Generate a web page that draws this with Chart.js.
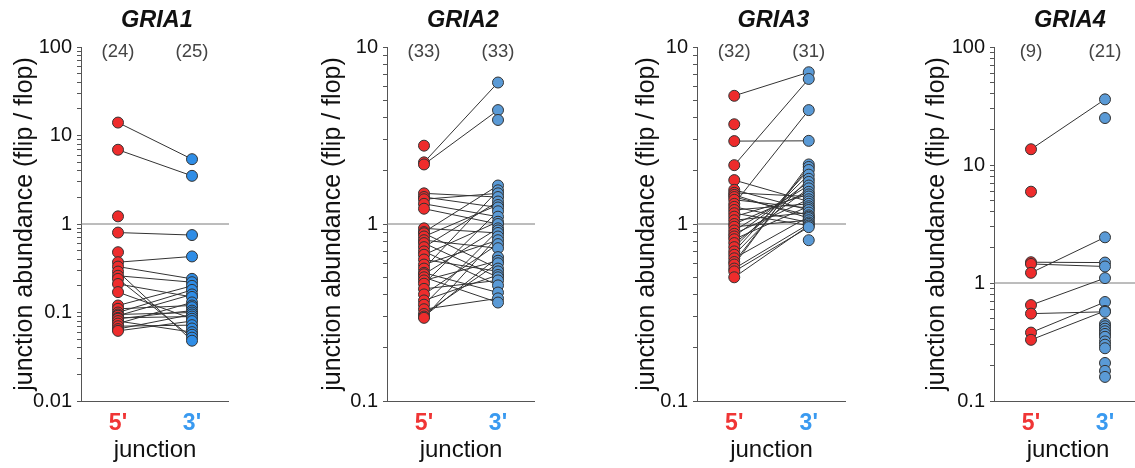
<!DOCTYPE html>
<html>
<head>
<meta charset="utf-8">
<script src="https://cdn.jsdelivr.net/npm/chart.js@4.4.1/dist/chart.umd.min.js"></script>
<style>
  html, body { margin: 0; padding: 0; background: #fff; overflow: hidden; width: 1135px; height: 468px; }
  canvas { position: absolute; top: 0; }
</style>
</head>
<body>
<canvas id="p0" width="229" height="468" style="left:0px"></canvas>
<canvas id="p1" width="227" height="468" style="left:308px"></canvas>
<canvas id="p2" width="224" height="468" style="left:622px"></canvas>
<canvas id="p3" width="230" height="468" style="left:912px"></canvas>
<script>
const genes = ['GRIA1', 'GRIA2', 'GRIA3', 'GRIA4'];
const n5 = [24, 33, 32, 9];
const n3 = [25, 33, 31, 21];
const categories = ["5'", "3'"];
const decades = [[0.01, 0.1, 1, 10, 100], [0.1, 1, 10], [0.1, 1, 10], [0.1, 1, 10, 100]];

// flip/flop ratios, 5' and 3' junction; pairs = [index in 5', index in 3']
const gria1_5 = [14, 6.9, 1.22, 0.80, 0.48, 0.37, 0.33, 0.29, 0.26, 0.24, 0.21, 0.17, 0.12, 0.11, 0.10, 0.095, 0.092, 0.087, 0.085, 0.08, 0.075, 0.07, 0.065, 0.062];
const gria1_3 = [5.4, 3.5, 0.75, 0.43, 0.24, 0.22, 0.20, 0.18, 0.16, 0.15, 0.13, 0.12, 0.115, 0.105, 0.1, 0.095, 0.09, 0.085, 0.08, 0.072, 0.066, 0.06, 0.056, 0.052, 0.048];
const gria1_pairs = [[0,0],[1,1],[3,2],[5,3],[6,4],[7,24],[8,5],[9,23],[10,9],[11,17],[12,6],[13,11],[14,7],[15,14],[16,8],[17,16],[18,13],[19,21],[20,10],[21,19],[22,15],[23,18]];

const gria2_5 = [2.77, 2.23, 2.17, 1.49, 1.42, 1.38, 1.3, 1.22, 0.945, 0.9, 0.886, 0.85, 0.81, 0.78, 0.74, 0.70, 0.67, 0.63, 0.59, 0.56, 0.53, 0.52, 0.50, 0.48, 0.46, 0.43, 0.40, 0.37, 0.35, 0.33, 0.31, 0.30, 0.295];
const gria2_3 = [6.3, 4.4, 3.87, 1.65, 1.55, 1.49, 1.42, 1.34, 1.28, 1.24, 1.18, 1.10, 1.03, 1.0, 0.945, 0.92, 0.89, 0.85, 0.81, 0.77, 0.73, 0.65, 0.62, 0.60, 0.56, 0.54, 0.515, 0.50, 0.48, 0.45, 0.41, 0.38, 0.36];
const gria2_pairs = [[1,0],[2,1],[3,6],[4,9],[5,5],[6,11],[7,13],[8,16],[9,3],[10,24],[11,8],[12,20],[13,27],[14,7],[15,29],[16,12],[17,25],[18,18],[19,4],[20,30],[21,14],[22,32],[23,22],[24,10],[25,28],[26,19],[27,26],[28,15],[29,31],[30,23],[31,21],[32,17]];

const gria3_5 = [5.3, 3.66, 2.94, 2.15, 1.77, 1.56, 1.5, 1.46, 1.42, 1.37, 1.3, 1.25, 1.2, 1.15, 1.1, 1.05, 1.0, 0.965, 0.92, 0.88, 0.85, 0.82, 0.78, 0.74, 0.70, 0.67, 0.64, 0.61, 0.59, 0.56, 0.54, 0.5];
const gria3_3 = [7.2, 6.6, 4.4, 2.95, 2.17, 2.1, 2.02, 1.9, 1.8, 1.73, 1.65, 1.59, 1.52, 1.47, 1.43, 1.38, 1.34, 1.30, 1.26, 1.23, 1.20, 1.16, 1.12, 1.10, 1.08, 1.05, 1.02, 1.0, 0.98, 0.96, 0.81];
const gria3_pairs = [[0,0],[2,3],[3,1],[10,2],[4,16],[5,20],[6,14],[7,24],[8,22],[9,19],[11,26],[12,17],[13,28],[14,13],[15,21],[16,12],[17,25],[18,10],[19,15],[20,9],[21,18],[22,11],[23,7],[24,6],[25,8],[26,23],[27,5],[28,4],[29,27],[30,29],[31,28]];

const gria4_5 = [13.6, 5.94, 1.5, 1.45, 1.22, 0.65, 0.55, 0.38, 0.33];
const gria4_3 = [36, 25, 2.44, 1.49, 1.38, 1.1, 0.69, 0.58, 0.57, 0.45, 0.43, 0.41, 0.39, 0.37, 0.35, 0.32, 0.30, 0.28, 0.21, 0.18, 0.16];
const gria4_pairs = [[0,0],[2,3],[3,4],[4,2],[5,5],[6,8],[7,6],[8,7]];

const fives = [gria1_5, gria2_5, gria3_5, gria4_5];
const threes = [gria1_3, gria2_3, gria3_3, gria4_3];
const pairs = [gria1_pairs, gria2_pairs, gria3_pairs, gria4_pairs];

const axisWidth = [81, 79, 75, 82];
const red = '#ee2c2c';
const blues = ['#2f8de6', '#5a9ad6', '#5a9ad6', '#5a9ad6'];
const labelRed = '#f03535';
const labelBlue = '#3a9af0';
const family = '"Liberation Sans", Arial, Helvetica, sans-serif';
Chart.defaults.font.family = family;

const panelText = {
  id: 'panelText',
  afterDraw(chart, args, opts) {
    const { ctx } = chart;
    const x = chart.scales.x;
    ctx.save();
    ctx.textAlign = 'center';
    ctx.textBaseline = 'alphabetic';
    ctx.fillStyle = '#111';
    ctx.font = 'italic bold 23.5px ' + family;
    ctx.fillText(opts.gene, x.getPixelForValue(0.5) + 2, 27);
    ctx.fillStyle = '#444';
    ctx.font = '18.5px ' + family;
    ctx.fillText('(' + opts.n5 + ')', x.getPixelForValue(0), 57);
    ctx.fillText('(' + opts.n3 + ')', x.getPixelForValue(1), 57);
    ctx.restore();
  }
};

function tickList(dec) {
  const out = [];
  for (let i = 0; i < dec.length - 1; i++) {
    for (let k = 1; k < 10; k++) out.push(dec[i] * k);
  }
  out.push(dec[dec.length - 1]);
  return out;
}

genes.forEach((gene, i) => {
  const five = fives[i], three = threes[i], dec = decades[i];
  const datasets = [
    { data: five.map(v => ({ x: 0, y: v })), backgroundColor: red, borderColor: '#333', borderWidth: 1, pointRadius: 5.5, order: 0 },
    { data: three.map(v => ({ x: 1, y: v })), backgroundColor: blues[i], borderColor: '#333', borderWidth: 1, pointRadius: 5.5, order: 0 }
  ];
  pairs[i].forEach(p => {
    datasets.push({ data: [{ x: 0, y: five[p[0]] }, { x: 1, y: three[p[1]] }], showLine: true, borderColor: '#333', borderWidth: 1, pointRadius: 0, order: 2 });
  });
  datasets.push({ data: [{ x: -0.5, y: 1 }, { x: 1.5, y: 1 }], showLine: true, borderColor: '#7a7a7a', borderWidth: 1, pointRadius: 0, order: 3 });

  new Chart(document.getElementById('p' + i), {
    type: 'scatter',
    data: { datasets },
    plugins: [panelText],
    options: {
      responsive: false,
      animation: false,
      layout: { autoPadding: false, padding: { top: 47, left: 0, right: 0, bottom: 0 } },
      plugins: {
        legend: { display: false },
        tooltip: { enabled: false },
        panelText: { gene, n5: n5[i], n3: n3[i] }
      },
      scales: {
        x: {
          type: 'linear', min: -0.5, max: 1.5,
          afterBuildTicks: s => { s.ticks = [{ value: 0 }, { value: 1 }]; },
          afterFit: s => { s.height = 67; s.paddingLeft = 0; s.paddingRight = 0; },
          ticks: {
            callback: v => categories[v],
            color: c => c.index === 0 ? labelRed : labelBlue,
            font: { size: 23, weight: 'bold' },
            padding: 9, autoSkip: false, maxRotation: 0
          },
          grid: { drawOnChartArea: false, drawTicks: false },
          border: { display: true, color: '#555', width: 1 },
          title: { display: true, text: 'junction', color: '#111', font: { size: 24 }, padding: { top: 0, bottom: 3 } }
        },
        y: {
          type: 'logarithmic', min: dec[0], max: dec[dec.length - 1],
          afterBuildTicks: s => { s.ticks = tickList(dec).map(v => ({ value: v })); },
          afterFit: s => { s.width = axisWidth[i]; },
          ticks: {
            callback: v => dec.includes(v) ? String(v) : '',
            autoSkip: false, color: '#111', font: { size: 20 }, padding: 5
          },
          grid: { drawOnChartArea: false, tickLength: 4, color: '#555' },
          border: { display: true, color: '#555', width: 1 },
          title: { display: true, text: 'junction abundance (flip / flop)', color: '#111', font: { size: 25 }, padding: { top: 10, bottom: 0 } }
        }
      }
    }
  });
});
</script>
</body>
</html>
